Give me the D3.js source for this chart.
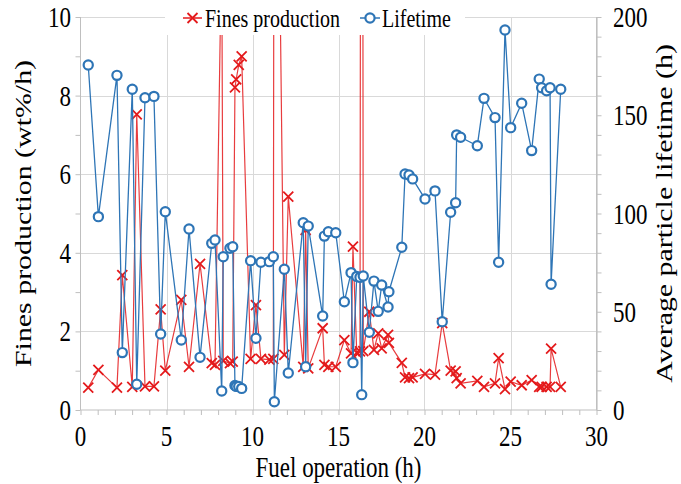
<!DOCTYPE html>
<html>
<head>
<meta charset="utf-8">
<script src="https://cdn.jsdelivr.net/npm/d3@7"></script>
<style>
  body { margin: 0; background: #fff; }
  text { font-family: "Liberation Serif", "Times New Roman", serif; fill: #000; }
</style>
</head>
<body>
<svg id="chart"></svg>
<script>
(function() {
  /* Data */
  var hours = [0.45, 1.04, 2.12, 2.43, 3.01, 3.27, 3.75, 4.27, 4.66, 4.93,
               5.86, 6.31, 6.95, 7.63, 7.82, 8.21, 8.30, 8.69, 8.85, 8.98,
               9.05, 9.20, 9.37, 9.89, 10.20, 10.49, 10.98, 11.21, 11.27, 11.85,
               12.08, 12.95, 13.09, 13.24, 14.08, 14.18, 14.41, 14.84, 15.34, 15.73,
               15.84, 16.06, 16.25, 16.35, 16.44, 16.79, 17.06, 17.31, 17.51, 17.88,
               17.93, 18.68, 18.87, 19.10, 19.31, 20.03, 20.61, 21.03, 21.52, 21.81,
               21.87, 22.10, 23.07, 23.46, 24.10, 24.31, 24.68, 25.01, 25.65, 26.23,
               26.67, 26.81, 27.10, 27.30, 27.36, 27.92];
  var fines = [0.57, 1.02, 0.57, 3.43, 0.59, 7.52, 0.60, 0.60, 2.56, 1.00,
               2.80, 1.10, 3.72, 1.19, 1.15, 12.0, 1.25, 1.19, 1.23, 8.21,
               8.41, 8.78, 9.00, 1.30, 2.67, 1.30, 1.28, 1.30, 23.0, 1.40,
               5.43, 1.10, 4.58, 1.06, 2.08, 1.15, 1.10, 1.10, 1.78, 1.44,
               4.16, 1.46, 1.49, 40.0, 1.50, 2.50, 1.53, 1.95, 1.57, 1.91,
               1.71, 1.20, 0.83, 0.81, 0.83, 0.92, 0.90, 2.21, 1.00, 0.98,
               0.81, 0.68, 0.74, 0.59, 0.68, 1.32, 0.53, 0.72, 0.63, 0.76,
               0.59, 0.59, 0.59, 0.59, 1.56, 0.59];
  var lifetime = [175.6, 98.4, 170.3, 29.2, 163.2, 13.1, 158.9, 159.6, 38.7, 100.9,
                  35.6, 92.1, 26.8, 84.8, 86.5, 9.7, 78.0, 82.3, 83.1, 12.5,
                  12.0, 12.0, 11.0, 76.0, 36.5, 75.2, 75.5, 78.0, 4.2, 71.6,
                  18.8, 95.3, 22.0, 93.6, 47.8, 88.5, 90.7, 90.2, 55.1, 69.9,
                  24.1, 68.0, 67.5, 7.8, 68.2, 39.6, 65.6, 50.2, 63.6, 52.4,
                  60.2, 82.8, 120.1, 119.6, 117.6, 107.4, 111.5, 44.9, 100.6, 105.5,
                  140.0, 138.8, 134.5, 158.6, 148.8, 75.2, 193.4, 143.7, 156.1, 132.0,
                  168.4, 164.0, 162.5, 164.0, 64.0, 163.2];

  var xTicks = [0, 5, 10, 15, 20, 25, 30];
  var leftTicks = [0, 2, 4, 6, 8, 10];
  var rightTicks = [0, 50, 100, 150, 200];
  var seriesNames = ["Fines production", "Lifetime"];

  /* SVG properties */
  var width = 681;
  var height = 484;
  var left = 80.5, right = 596.5, top = 17, bottom = 410;
  var red = "#e41a1c";
  var blue = "#2e75b6";
  var gridColor = "#d9d9d9";
  var axisColor = "#bfbfbf";
  var stretch = 1.3;   // the picture is taller than wide, text too

  var svg = d3.select("#chart").attr("width", width).attr("height", height);

  var x = d3.scaleLinear().domain([0, 30]).range([left, right]);
  var yL = d3.scaleLinear().domain([0, 10]).range([bottom, top]);
  var yR = d3.scaleLinear().domain([0, 200]).range([bottom, top]);

  function label(g, tx, ty, str, size, anchor, rot) {
    return g.append("text")
      .attr("transform", "translate(" + tx + "," + ty + ") scale(1," + stretch + ")" + (rot ? " rotate(-90)" : ""))
      .attr("text-anchor", anchor || "start")
      .style("font-size", size + "px")
      .text(str);
  }

  /* grid */
  svg.append("g").selectAll("line").data(leftTicks.slice(1)).enter().append("line")
     .attr("x1", left).attr("x2", right)
     .attr("y1", function(d) { return Math.round(yL(d)) + 0.5; })
     .attr("y2", function(d) { return Math.round(yL(d)) + 0.5; })
     .attr("stroke", gridColor);
  svg.append("g").selectAll("line").data(xTicks.slice(1)).enter().append("line")
     .attr("y1", top).attr("y2", bottom)
     .attr("x1", function(d) { return Math.round(x(d)) + 0.5; })
     .attr("x2", function(d) { return Math.round(x(d)) + 0.5; })
     .attr("stroke", gridColor);

  /* axes */
  var xAxis = d3.axisBottom(x).tickValues(d3.range(0, 31, 1)).tickSize(5).tickFormat("");
  var gx = svg.append("g").attr("transform", "translate(0," + bottom + ")").call(xAxis);
  var lAxis = d3.axisLeft(yL).tickValues(d3.range(0, 11, 1)).tickSize(5).tickFormat("");
  var gl = svg.append("g").attr("transform", "translate(" + left + ",0)").call(lAxis);
  var rAxis = d3.axisRight(yR).tickValues(d3.range(0, 201, 10)).tickSize(5).tickFormat("");
  var gr = svg.append("g").attr("transform", "translate(" + right + ",0)").call(rAxis);
  [gx, gl, gr].forEach(function(g) {
    g.selectAll("path, line").attr("stroke", axisColor);
    g.select(".domain").attr("d", g === gx ? "M" + left + ",0H" + right
                                           : "M0," + bottom + "V" + top);
  });

  /* tick labels */
  var tg = svg.append("g");
  xTicks.forEach(function(d) { label(tg, x(d), 446, d, 23, "middle"); });
  leftTicks.forEach(function(d) { label(tg, 71, yL(d) + 10, d, 23, "end"); });
  rightTicks.forEach(function(d) { label(tg, 613, yR(d) + 10, d, 23, "start"); });

  /* axis titles */
  label(svg, (left + right) / 2, 477, "Fuel operation (h)", 23, "middle");
  label(svg, 31, (top + bottom) / 2, "Fines production (wt%/h)", 23, "middle", true);
  label(svg, 672, (top + bottom) / 2, "Average particle lifetime (h)", 23, "middle", true);

  /* series */
  svg.append("clipPath").attr("id", "plot-clip").append("rect")
     .attr("x", left - 8).attr("y", top).attr("width", right - left + 16).attr("height", bottom - top + 8);
  var plot = svg.append("g").attr("clip-path", "url(#plot-clip)");

  var idx = d3.range(hours.length);
  var redLine = d3.line().x(function(i) { return x(hours[i]); }).y(function(i) { return yL(fines[i]); });
  var blueLine = d3.line().x(function(i) { return x(hours[i]); }).y(function(i) { return yR(lifetime[i]); });

  plot.append("path").datum(idx).attr("d", redLine)
      .attr("fill", "none").attr("stroke", red).attr("stroke-width", 1.2).attr("stroke-opacity", 0.85);
  var s = 5;
  plot.append("g").selectAll("path").data(idx.filter(function(i) { return fines[i] <= 10; }))
      .enter().append("path")
      .attr("d", function(i) {
        var cx = x(hours[i]), cy = yL(fines[i]);
        return "M" + (cx - s) + "," + (cy - s) + "L" + (cx + s) + "," + (cy + s) +
               "M" + (cx - s) + "," + (cy + s) + "L" + (cx + s) + "," + (cy - s);
      })
      .attr("stroke", red).attr("stroke-width", 1.8).attr("fill", "none");

  plot.append("path").datum(idx).attr("d", blueLine)
      .attr("fill", "none").attr("stroke", blue).attr("stroke-width", 1.3);
  plot.append("g").selectAll("circle").data(idx).enter().append("circle")
      .attr("cx", function(i) { return x(hours[i]); })
      .attr("cy", function(i) { return yR(lifetime[i]); })
      .attr("r", 4.6)
      .attr("fill", "#fff").attr("stroke", blue).attr("stroke-width", 2.2);

  /* legend */
  var lg = svg.append("g");
  lg.append("rect").attr("x", 165).attr("y", 0).attr("width", 300).attr("height", 35).attr("fill", "#fff");
  lg.append("line").attr("x1", 183).attr("x2", 202).attr("y1", 18).attr("y2", 18)
    .attr("stroke", red).attr("stroke-width", 1.5);
  lg.append("path").attr("d", "M" + (192.5 - s) + "," + (18 - s) + "L" + (192.5 + s) + "," + (18 + s) +
                              "M" + (192.5 - s) + "," + (18 + s) + "L" + (192.5 + s) + "," + (18 - s))
    .attr("stroke", red).attr("stroke-width", 1.8);
  label(lg, 205, 27, seriesNames[0], 20, "start");
  lg.append("line").attr("x1", 360).attr("x2", 380).attr("y1", 18).attr("y2", 18)
    .attr("stroke", blue).attr("stroke-width", 1.5);
  lg.append("circle").attr("cx", 370).attr("cy", 18).attr("r", 4.6)
    .attr("fill", "#fff").attr("stroke", blue).attr("stroke-width", 2.2);
  label(lg, 382, 27, seriesNames[1], 20, "start");
})();
</script>
</body>
</html>
